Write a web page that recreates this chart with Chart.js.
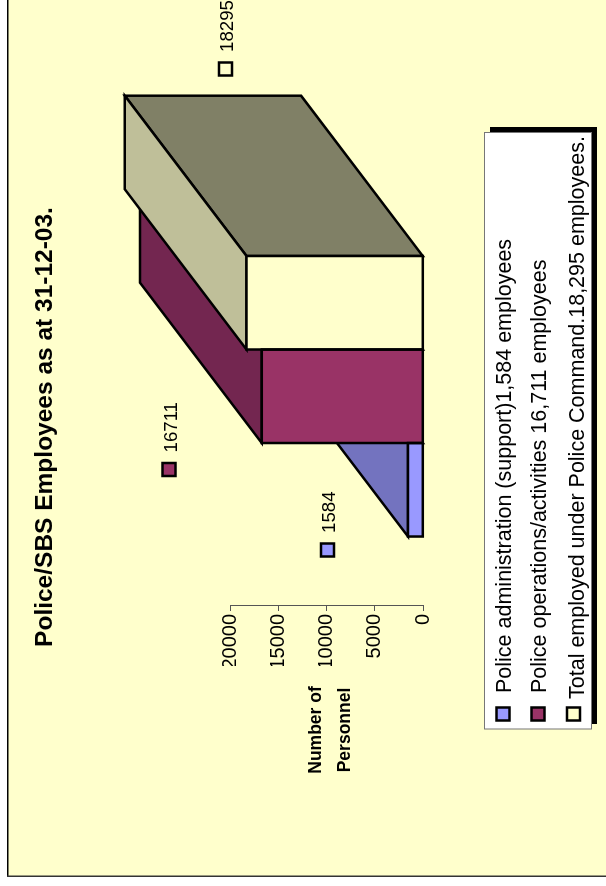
<!DOCTYPE html>
<html>
<head>
<meta charset="utf-8">
<title>Police/SBS Employees</title>
<script src="https://cdn.jsdelivr.net/npm/chart.js@4/dist/chart.umd.min.js"></script>
<style>
  html, body { margin: 0; padding: 0; background: #fff; overflow: hidden; }
  #page { width: 606px; height: 886px; position: relative; overflow: hidden; }
  /* the sheet is laid out landscape and turned a quarter counter-clockwise */
  #sheet {
    position: absolute; left: 0; top: 0; width: 886px; height: 606px;
    transform-origin: top left;
    transform: translate(0, 886px) rotate(-90deg);
  }
  canvas { display: block; }
</style>
</head>
<body>
<div id="page">
  <div id="sheet"><canvas id="chart" width="886" height="606"></canvas></div>
</div>
<script>
const categories = [
  "Police administration (support)1,584 employees",
  "Police operations/activities 16,711 employees",
  "Total employed under Police Command.18,295 employees.",
];
const personnel = [1584, 16711, 18295];
const tickValues = [0, 5000, 10000, 15000, 20000];

const frontColors = ["#9999FF", "#993366", "#FFFFCC"];
const topColors = ["#7373BF", "#732650", "#BFBF99"];
const sideColors = ["#4D4D80", "#4D1A33", "#808066"];

const PANEL = "#FFFFCC";
const FONT = '"Liberation Sans", Arial, sans-serif';
const depth = { x: 160.3, y: -121.7 };
const EDGE = 2.5;

// where the value tags sit: key box centre, in canvas pixels
const tagPos = [
  { x: 336, y: 327.5 },
  { x: 416.5, y: 169 },
  { x: 817, y: 225.5 },
];
const legendRows = [
  { key: 503, text: 505, start: 193 },
  { key: 538, text: 540, start: 193 },
  { key: 573.5, text: 578, start: 187 },
];

function square(ctx, cx, cy, size, fill) {
  ctx.fillStyle = fill;
  ctx.strokeStyle = "#000";
  ctx.lineWidth = EDGE;
  ctx.fillRect(cx - size / 2, cy - size / 2, size, size);
  ctx.strokeRect(cx - size / 2, cy - size / 2, size, size);
}

function face(ctx, pts, fill) {
  ctx.beginPath();
  pts.forEach((p, i) => (i ? ctx.lineTo(p[0], p[1]) : ctx.moveTo(p[0], p[1])));
  ctx.closePath();
  ctx.fillStyle = fill;
  ctx.fill();
  ctx.stroke();
}

// panel behind everything
const backdrop = {
  id: "backdrop",
  beforeDraw(chart) {
    const ctx = chart.ctx;
    ctx.save();
    ctx.fillStyle = PANEL;
    ctx.fillRect(10, 8, 876, 598);
    ctx.fillStyle = "#000";
    ctx.fillRect(9, 7, 877, 1.5);
    ctx.fillStyle = "#333";
    ctx.fillRect(9, 7, 1.5, 599);
    ctx.restore();
  },
};

// top and side of each block first, left to right so later blocks cover
// earlier ones; the front outlines go on after the library has filled the bars
const blockDepth = {
  id: "blockDepth",
  beforeDatasetsDraw(chart) {
    const ctx = chart.ctx;
    const bars = chart.getDatasetMeta(0).data;
    ctx.save();
    ctx.strokeStyle = "#000";
    ctx.lineWidth = EDGE;
    bars.forEach((bar, i) => {
      const l = bar.x - bar.width / 2;
      const r = bar.x + bar.width / 2;
      const t = bar.y;
      const b = bar.base;
      face(ctx, [[r, t], [r + depth.x, t + depth.y], [r + depth.x, b + depth.y], [r, b]], sideColors[i]);
      face(ctx, [[l, t], [l + depth.x, t + depth.y], [r + depth.x, t + depth.y], [r, t]], topColors[i]);
    });
    ctx.restore();
  },
  afterDatasetsDraw(chart) {
    const ctx = chart.ctx;
    ctx.save();
    ctx.strokeStyle = "#000";
    ctx.lineWidth = EDGE;
    chart.getDatasetMeta(0).data.forEach((bar) => {
      ctx.strokeRect(bar.x - bar.width / 2, bar.y, bar.width, bar.base - bar.y);
    });
    ctx.restore();
  },
};

// title, axis caption, value tags and the legend box
const annotations = {
  id: "annotations",
  afterDraw(chart) {
    const ctx = chart.ctx;
    ctx.save();
    ctx.textBaseline = "middle";
    ctx.fillStyle = "#000";

    ctx.font = "bold 24.5px " + FONT;
    ctx.textAlign = "center";
    ctx.fillText("Police/SBS Employees as at 31-12-03.", 459, 45);

    ctx.font = "bold 17.5px " + FONT;
    ctx.fillText("Number of", 156, 316);
    ctx.fillText("Personnel", 156, 345);

    personnel.forEach((value, i) => {
      square(ctx, tagPos[i].x, tagPos[i].y, 13, frontColors[i]);
      ctx.fillStyle = "#000";
      ctx.font = "18.67px " + FONT;
      ctx.textAlign = "left";
      ctx.fillText(String(value), tagPos[i].x + 17, tagPos[i].y + 2.5);
    });

    ctx.fillStyle = "#000";
    ctx.fillRect(162, 490, 597, 107);
    ctx.fillStyle = "#fff";
    ctx.strokeStyle = "#777";
    ctx.lineWidth = 1;
    ctx.fillRect(157, 484.5, 596.5, 107);
    ctx.strokeRect(157, 484.5, 596.5, 107);

    categories.forEach((name, i) => {
      square(ctx, 172, legendRows[i].key, 13, frontColors[i]);
      ctx.fillStyle = "#000";
      ctx.font = "21.5px " + FONT;
      ctx.textAlign = "left";
      ctx.fillText(name, legendRows[i].start, legendRows[i].text);
    });
    ctx.restore();
  },
};

new Chart(document.getElementById("chart"), {
  type: "bar",
  data: {
    datasets: [
      {
        label: "Number of Personnel",
        data: personnel.map((v, i) => ({ x: i, y: v })),
        backgroundColor: frontColors,
        borderWidth: 0,
        inflateAmount: 0,
        categoryPercentage: 1,
        barPercentage: 1,
      },
    ],
  },
  plugins: [backdrop, blockDepth, annotations],
  options: {
    responsive: false,
    animation: false,
    layout: { padding: { left: 220, right: 256, top: 230, bottom: 182.7 } },
    plugins: {
      legend: { display: false },
      title: { display: false },
      tooltip: { enabled: false },
    },
    scales: {
      x: {
        type: "linear",
        display: false,
        offset: false,
        min: -1.243,
        max: 2.5,
        afterBuildTicks(scale) {
          scale.ticks = personnel.map((v, i) => ({ value: i }));
        },
      },
      y: {
        min: 0,
        max: 20000,
        afterFit(scale) {
          scale.width = 60;
        },
        afterBuildTicks(scale) {
          scale.ticks = tickValues.map((value) => ({ value }));
        },
        border: { display: true, color: "#555", width: 1 },
        grid: { drawOnChartArea: false, tickLength: 5, tickColor: "#555" },
        ticks: {
          color: "#000",
          padding: 3,
          font: { family: FONT, size: 20 },
          callback: (v) => String(v),
        },
      },
    },
  },
});
</script>
</body>
</html>
